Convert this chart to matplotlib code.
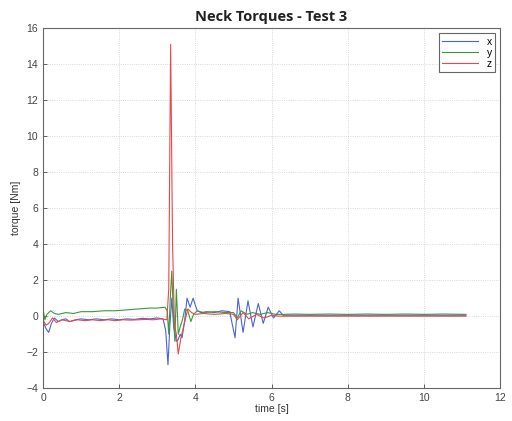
import matplotlib
matplotlib.use("Agg")
import matplotlib.pyplot as plt

# ---- data ----
t_x = [0.0, 0.08, 0.15, 0.22, 0.3, 0.4, 0.5, 0.6, 0.7, 0.85, 1.0, 1.2, 1.4, 1.6, 1.8, 2.0, 2.2, 2.4, 2.6, 2.8, 3.0, 3.15,
       3.22, 3.28, 3.33, 3.38, 3.43, 3.5, 3.55, 3.6, 3.65, 3.72, 3.78, 3.86, 3.94, 4.0, 4.05, 4.15, 4.3, 4.5, 4.7, 4.9,
       5.04, 5.12, 5.25, 5.38, 5.51, 5.65, 5.78, 5.91, 6.05, 6.2, 6.3, 6.5, 7.0, 7.5, 8.0,
       8.5, 9.0, 9.5, 10.0, 10.5, 11.1]
v_x = [-0.3, -0.7, -0.9, -0.4, -0.1, -0.3, -0.2, -0.15, -0.3, -0.2, -0.15, -0.2, -0.15, -0.2, -0.15, -0.2, -0.15, -0.18, -0.12, -0.15, -0.1, -0.15,
       -0.8, -2.7, -0.5, 1.0, -0.6, -1.4, -1.3, -1.0, -1.2, -0.2, 1.0, 0.5, 1.0, 0.6, 0.3, 0.2, 0.25, 0.2, 0.3, 0.25,
       -1.2, 1.0, -0.9, 0.85, -0.6, 0.7, -0.4, 0.5, -0.1, 0.3, 0.05, 0.05, 0.05, 0.05, 0.05,
       0.05, 0.05, 0.05, 0.05, 0.05, 0.05]

t_y = [0.0, 0.05, 0.1, 0.2, 0.3, 0.4, 0.6, 0.8, 1.0, 1.3, 1.6, 1.9, 2.2, 2.5, 2.8, 3.0, 3.2, 3.26, 3.3, 3.34, 3.38, 3.42,
       3.46, 3.5, 3.55, 3.6, 3.66, 3.72, 3.8, 3.88, 3.95, 4.05, 4.2, 4.5, 4.8, 5.0, 5.1, 5.2, 5.35, 5.5, 5.7, 5.9, 6.1,
       6.3, 6.6, 7.0, 7.5, 8.0, 8.5, 9.0, 9.5, 10.0, 10.5, 11.1]
v_y = [0.4, -0.2, 0.1, 0.3, 0.15, 0.1, 0.2, 0.15, 0.25, 0.25, 0.3, 0.3, 0.35, 0.4, 0.45, 0.45, 0.5, 0.3, -1.0, 1.0, 2.5, 0.2,
       -1.4, 1.5, -1.0, -0.6, -0.2, 0.4, 0.3, -0.3, 0.1, 0.3, 0.2, 0.25, 0.2, 0.2, -0.1, 0.3, 0.1, 0.2, 0.1, 0.2, 0.1,
       0.1, 0.12, 0.1, 0.12, 0.1, 0.12, 0.1, 0.12, 0.1, 0.12, 0.1]

t_z = [0.0, 0.08, 0.15, 0.25, 0.35, 0.5, 0.7, 0.9, 1.1, 1.3, 1.5, 1.7, 1.9, 2.1, 2.3, 2.5, 2.7, 2.9, 3.1, 3.25, 3.3,
       3.35, 3.4, 3.45, 3.5, 3.55, 3.62, 3.7, 3.8, 3.9, 4.0, 4.2, 4.5, 4.8, 5.0, 5.1, 5.25, 5.4, 5.6, 5.8, 6.0, 6.2,
       6.4, 7.0, 7.5, 8.0, 8.5, 9.0, 9.5, 10.0, 10.5, 11.1]
v_z = [-0.2, -0.5, -0.4, -0.1, -0.35, -0.2, -0.3, -0.2, -0.25, -0.2, -0.25, -0.2, -0.25, -0.2, -0.22, -0.2, -0.18, -0.2, -0.15, -0.2, 1.5,
       15.1, 4.0, -0.5, -1.0, -2.1, -1.2, -0.5, 0.4, 0.2, 0.1, 0.15, 0.1, 0.15, 0.1, -0.2, 0.2, -0.15, 0.1, -0.1, 0.05, 0.0,
       0.0, 0.0, 0.0, 0.0, 0.0, 0.0, 0.0, 0.0, 0.0, 0.0]

series_labels = ['x', 'y', 'z']
series_colors = ['#4a64d8', '#3a9a3a', '#e84848']
x_ticks = [0, 2, 4, 6, 8, 10, 12]
y_ticks = [-4, -2, 0, 2, 4, 6, 8, 10, 12, 14, 16]

plt.rcParams['font.family'] = ['Liberation Sans', 'DejaVu Sans']

fig = plt.figure(figsize=(5.12, 4.21), dpi=100)
ax = fig.add_axes([0.084, 0.078, 0.893, 0.855])

for t, v, lab, c in zip([t_x, t_y, t_z], [v_x, v_y, v_z], series_labels, series_colors):
    ax.plot(t, v, color=c, lw=0.8, label=lab)

ax.set_xlim(0, 12)
ax.set_ylim(-4, 16)
ax.set_xticks(x_ticks)
ax.set_yticks(y_ticks)
ax.tick_params(direction='in', labelsize=7.5, colors='#444444', length=3, width=0.6)
for s in ax.spines.values():
    s.set_color('#666666')
    s.set_linewidth(0.8)
ax.grid(True, linestyle=':', color='#cccccc', linewidth=0.6)

ax.set_xlabel('time [s]', fontsize=7.5, color='#333333', labelpad=1)
ax.set_ylabel('torque [Nm]', fontsize=7.5, color='#333333', labelpad=4)
ax.set_title('Neck Torques - Test 3', fontsize=10.5, fontweight='bold', color='#222222',
             family=['Open Sans', 'DejaVu Sans'], pad=5)

leg = ax.legend(loc='upper right', fontsize=7.5, handlelength=3.5, borderpad=0.3, labelspacing=0.1,
                fancybox=False, framealpha=1, edgecolor='#666666', markerfirst=True)
leg.get_frame().set_linewidth(0.8)

fig.savefig('out.png', dpi=100)
